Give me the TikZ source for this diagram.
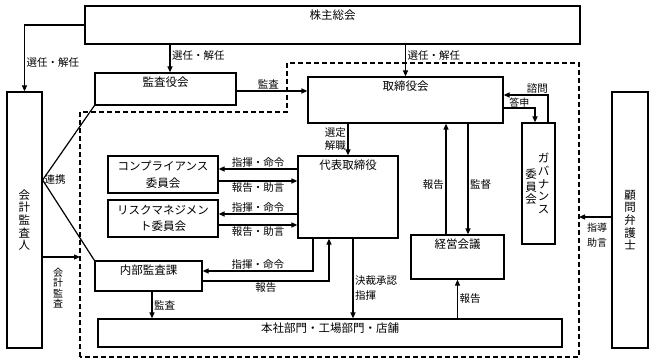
\documentclass[tikz,border=0pt]{standalone}
\usepackage{fontspec}
\setmainfont{Noto Sans CJK JP}
\usetikzlibrary{arrows.meta,positioning,calc}

\begin{document}
\begin{tikzpicture}[x=1pt, y=-1pt, line width=1.2pt,
    box/.style={draw, line width=1.2pt, inner sep=0pt},
    boxtext/.style={font=\fontsize{11.5}{13}\selectfont, inner sep=1pt},
    twoline/.style={align=center, font=\fontsize{11.5}{16.5}\selectfont},
    vtext/.style={align=center, inner sep=0pt, font=\fontsize{11.5}{12.6}\selectfont},
    lbl/.style={font=\fontsize{10.5}{13}\selectfont, inner sep=1.5pt},
    vlbl/.style={align=center, inner sep=0pt, font=\fontsize{10}{10.5}\selectfont},
    arr/.style={-{Triangle[length=6pt, width=5pt]}}]
    \useasboundingbox (0,0) rectangle (654,363);

    % --- Boxes ---
    \node[box, minimum width=495pt, minimum height=38pt] (sh) at (332.5,25) {};
    \node[boxtext, below=3pt of sh.north] (sh-t) {株主総会};

    \node[box, minimum width=141pt, minimum height=32pt] (kansa) at (165.5,89) {};
    \node[boxtext, below=3pt of kansa.north] (kansa-t) {監査役会};

    \node[box, minimum width=195pt, minimum height=46pt] (tori) at (405.5,100) {};
    \node[boxtext, below=3pt of tori.north] (tori-t) {取締役会};

    \node[box, minimum width=35pt, minimum height=256pt] (kaikei) at (24.5,220) {};
    \node[vtext] (kaikei-t) at (kaikei) {会\\計\\監\\査\\人};

    \node[box, minimum width=36pt, minimum height=256pt] (komon) at (630,220) {};
    \node[vtext] (komon-t) at (komon) {顧\\問\\弁\\護\\士};

    \node[box, minimum width=33pt, minimum height=121pt] (gov) at (538.5,183.5) {};
    \node[vtext] (gov-t1) at ($(gov)+(5,0)$) {ガ\\バ\\ナ\\ン\\ス};
    \node[vtext] (gov-t2) at ($(gov)+(-7.5,3.5)$) {委\\員\\会};

    \node[box, twoline, minimum width=110pt, minimum height=37pt] (comp) at (163,174.5) {コンプライアンス\\委員会};
    \node[box, twoline, minimum width=110pt, minimum height=37pt] (risk) at (163,218.5) {リスクマネジメン\\ト委員会};

    \node[box, minimum width=100pt, minimum height=82pt] (dai) at (348,197) {};
    \node[boxtext, below=3pt of dai.north] (dai-t) {代表取締役};

    \node[box, minimum width=93pt, minimum height=44pt] (keiei) at (457.5,257) {};
    \node[boxtext, below=3pt of keiei.north] (keiei-t) {経営会議};

    \node[box, minimum width=107pt, minimum height=30pt] (naibu) at (148.5,276) {};
    \node[boxtext, below=3pt of naibu.north] (naibu-t) {内部監査課};

    \node[box, minimum width=464pt, minimum height=28pt] (honsha) at (330,333) {};
    \node[boxtext, below=3pt of honsha.north] (honsha-t) {本社部門・工場部門・店舗};

    % --- Company boundary ---
    \draw[dash pattern=on 5pt off 3pt] (80,357) -- (80,112) -- (287,112) -- (287,63) -- (579,63) -- (579,357) -- cycle;
    \coordinate (audin) at (80,257);
    \coordinate (advin) at (579,217);

    % --- Shareholders ---
    \draw[arr] (sh.west) -| node[lbl, right, pos=0.78] {選任・解任} (kaikei.north);
    \draw[arr] ($(sh.south -| kansa.north)+(4.5,0)$) -- node[lbl, right, pos=0.4] {選任・解任} ($(kansa.north)+(4.5,0)$);
    \draw[arr] (sh.south -| tori.north) -- node[lbl, right, pos=0.33] {選任・解任} (tori.north);

    % --- Board ---
    \draw[arr] ($(kansa.east)+(0,2)$) -- node[lbl, above, pos=0.45] {監査} ($(kansa.east -| tori.west)+(0,2)$);
    \draw[arr] ($(gov.north)+(9.5,0)$) |- node[lbl, above, pos=0.62] {諮問} ($(tori.east)+(0,-5)$);
    \draw[arr] ($(tori.east)+(0,8)$) -| node[lbl, above, pos=0.25, inner sep=0.5pt, font=\fontsize{10}{12}\selectfont] {答申} ($(gov.north)+(-3.5,0)$);
    \draw[arr] (tori.south -| dai.north) -- node[lbl, left, align=center, font=\fontsize{10.5}{13}\selectfont] {選定\\解職} (dai.north);
    \draw[arr] ($(keiei.north)+(-11.5,0)$) -- node[lbl, left, pos=0.45] {報告} ($(tori.south -| keiei.north)+(-11.5,0)$);
    \draw[arr] ($(tori.south -| keiei.north)+(10.5,0)$) -- node[lbl, right, pos=0.55] {監督} ($(keiei.north)+(10.5,0)$);

    % --- Committees ---
    \draw[arr] ($(dai.west |- comp.east)+(0,-5.5)$) -- node[lbl, above] {指揮・命令} ($(comp.east)+(0,-5.5)$);
    \draw[arr] ($(comp.east)+(0,6.5)$) -- node[lbl, below] {報告・助言} ($(dai.west |- comp.east)+(0,6.5)$);
    \draw[arr] ($(dai.west |- risk.east)+(0,-4.5)$) -- node[lbl, above] {指揮・命令} ($(risk.east)+(0,-4.5)$);
    \draw[arr] ($(risk.east)+(0,6.5)$) -- node[lbl, below] {報告・助言} ($(dai.west |- risk.east)+(0,6.5)$);

    % --- Internal audit and departments ---
    \draw[arr] ($(dai.south)+(-35,0)$) |- node[lbl, above, pos=0.75] {指揮・命令} ($(naibu.east)+(0,-5)$);
    \draw[arr] ($(naibu.east)+(0,5)$) -| node[lbl, below, pos=0.25] {報告} ($(dai.south)+(-19,0)$);
    \draw[arr] ($(dai.south)+(5,0)$) -- node[lbl, right, align=left, pos=0.62, font=\fontsize{10.5}{15}\selectfont] {決裁承認\\指揮} ($(dai.south |- honsha.north)+(5,0)$);
    \draw[arr] (keiei.south |- honsha.north) -- node[lbl, right] {報告} (keiei.south);
    \draw[arr] ($(naibu.south)+(3.5,0)$) -- node[lbl, right] {監査} ($(naibu.south |- honsha.north)+(3.5,0)$);

    % --- Auditor and counsel ---
    \draw (kansa.south west) -- ($(kaikei.east)+(0,-40)$) node[lbl, right] (renkei) {連携} -- (naibu.north west);
    \draw[arr] (kaikei.east |- audin) -- (audin);
    \node[vlbl] (kaikei-l) at (58,288) {会\\計\\監\\査};
    \draw[arr] (komon.west |- advin) -- (advin);
    \node[lbl, align=center, font=\fontsize{10}{15}\selectfont] (shido) at (597,235) {指導\\助言};

\end{tikzpicture}
\end{document}
